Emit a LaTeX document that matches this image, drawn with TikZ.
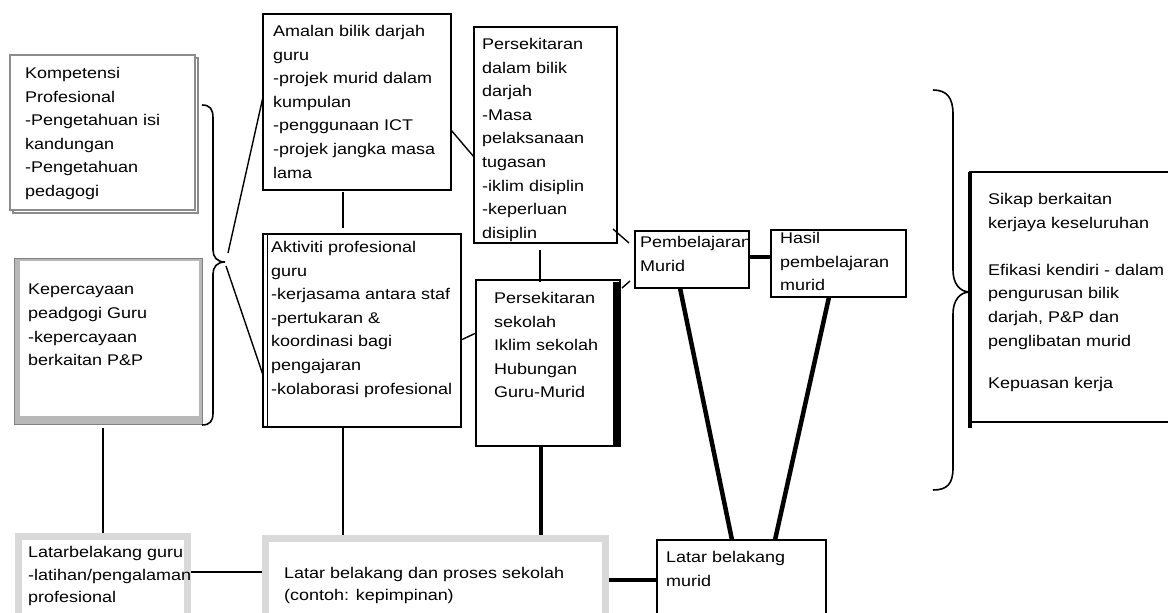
\documentclass[tikz,border=0pt]{standalone}
\usepackage{fontspec}
\setmainfont{Liberation Sans}[FakeStretch=1.16]
\usetikzlibrary{calc}
\begin{document}
\begin{tikzpicture}[x=1pt,y=-1pt,line join=miter,
  box/.style={draw=black, line width=1.4pt, fill=white, anchor=north west, inner sep=0pt, outer sep=0pt},
  graybox/.style={draw=black!15, line width=7pt, fill=white, anchor=north west, inner sep=0pt, outer sep=0pt},
  txt/.style={anchor=north west, inner sep=0pt, align=left, font=\fontsize{15.5}{23.6}\selectfont},
  con/.style={line width=1.4pt},
  heavy/.style={line width=4.5pt},
  brace/.style={line width=1.6pt}]
\useasboundingbox (0,0) rectangle (1168,613);
\clip (0,0) rectangle (1168,613);
\fill[white] (0,0) rectangle (1168,613);

% Kompetensi Profesional (stacked gray box)
\node[box, draw=black!45, line width=1.2pt, minimum width=185pt, minimum height=155pt] (kompB) at (13,58) {};
\node[box, draw=black!45, line width=1.2pt, minimum width=185pt, minimum height=155pt] (komp) at (10,55) {};
\node[txt] (kompT) at (25,67) {Kompetensi\\Profesional\\-Pengetahuan isi\\kandungan\\-Pengetahuan\\pedagogi};

% Kepercayaan pedagogi guru
\node[box, draw=black!50, line width=0.8pt, fill=black!28, minimum width=188pt, minimum height=166pt] (kep) at (14,258) {};
\fill[white] (20,261) rectangle (199,416);
\node[txt] (kepT) at (28,284) {Kepercayaan\\peadgogi Guru\\-kepercayaan\\berkaitan P\&P};

% left brace
\coordinate (lbtip) at (225,262);
\draw[brace] (202,105) .. controls (210,105) and (213,109) .. (213,118) -- (213,250)
  .. controls (213,257) and (217,262) .. (lbtip)
  .. controls (217,262) and (213,267) .. (213,274) -- (213,413)
  .. controls (213,421) and (210,425) .. (202,425);

% Amalan bilik darjah guru
\node[box, minimum width=188pt, minimum height=176pt] (amalan) at (263,14) {};
\node[txt] (amalanT) at (273,25) {Amalan bilik darjah\\guru\\-projek murid dalam\\kumpulan\\-penggunaan ICT\\-projek jangka masa\\lama};

% Persekitaran dalam bilik darjah
\node[box, minimum width=143pt, minimum height=216pt] (pd) at (474,27) {};
\node[txt] (pdT) at (482,38) {Persekitaran\\dalam bilik\\darjah\\-Masa\\pelaksanaan\\tugasan\\-iklim disiplin\\-keperluan\\disiplin};

% Aktiviti profesional guru
\node[box, minimum width=198pt, minimum height=193pt] (akt) at (263,234) {};
\draw[line width=1pt] (267,235) -- (267,426);
\node[txt] (aktT) at (271,241) {Aktiviti profesional\\guru\\-kerjasama antara staf\\-pertukaran \&\\koordinasi bagi\\pengajaran\\-kolaborasi profesional};

% Persekitaran sekolah
\node[box, line width=2.4pt, minimum width=144pt, minimum height=166pt] (ps) at (476,280) {};
\fill[black] (613,282) rectangle (620,447);
\node[txt] (psT) at (494,292) {Persekitaran\\sekolah\\Iklim sekolah\\Hubungan\\Guru-Murid};

% Pembelajaran Murid
\node[box, minimum width=114pt, minimum height=57pt] (pm) at (635,231) {};
\node[txt] (pmT) at (640,236) {Pembelajaran\\Murid};

% Hasil pembelajaran murid
\node[box, minimum width=135pt, minimum height=67pt] (hasil) at (771,230) {};
\node[txt] (hasilT) at (780,232) {Hasil\\pembelajaran\\murid};

% right brace
\coordinate (rbtip) at (970,292);
\draw[brace] (933,90) .. controls (947,90) and (953,98) .. (953,114) -- (953,270)
  .. controls (953,284) and (960,292) .. (rbtip)
  .. controls (960,292) and (953,300) .. (953,314) -- (953,468)
  .. controls (953,484) and (947,490) .. (933,490);

% Sikap box
\node[box, minimum width=202pt, minimum height=250pt] (sikap) at (970,172) {};
\draw[line width=4pt] (sikap.north west) -- ($(sikap.south west)+(0,6)$);
\node[txt] (sikapT) at (988,193) {Sikap berkaitan\\kerjaya keseluruhan\\[23.6pt]Efikasi kendiri - dalam\\pengurusan bilik\\darjah, P\&P dan\\penglibatan murid\\[18.5pt]Kepuasan kerja};

% bottom row
\node[graybox, minimum width=169pt, minimum height=100pt] (lbg) at (18.5,536.5) {};
\node[txt, font=\fontsize{15.5}{22.6}\selectfont] (lbgT) at (28,546) {Latarbelakang guru\\-latihan/pengalaman\\profesional};

\node[graybox, minimum width=340pt, minimum height=100pt] (proses) at (265.5,538.5) {};
\node[txt, font=\fontsize{15.5}{22.5}\selectfont] (prosesT) at (284,567) {Latar belakang dan proses sekolah\\(contoh: kepimpinan)};

\node[box, line width=1.8pt, minimum width=169pt, minimum height=100pt] (lbm) at (657,540) {};
\node[txt] (lbmT) at (666,551) {Latar belakang\\murid};

% connectors
\draw[con] (lbtip) ++(3,-9) -- ($(amalan.north west)+(0,83)$);
\draw[con] (lbtip) ++(1,4) -- ($(akt.north west)+(0,141)$);
\draw[con] ($(amalan.south west)+(80,2)$) -- ($(akt.north west)+(80,-6)$);
\draw[con] ($(amalan.north east)+(0,116)$) -- ($(pd.north west)+(0,130)$);
\draw[con] ($(pd.south west)+(66,7)$) -- ($(ps.north west)+(64,2)$);
\draw[con] ($(akt.north east)+(0,106)$) -- ($(ps.north west)+(0,53)$);
\draw[con] ($(pd.south east)+(-4,-14)$) -- ($(pm.north west)+(-6,12)$);
\draw[con] ($(ps.north east)+(2,8)$) -- ($(pm.south west)+(-5,-7)$);
\draw[heavy] ($(pm.north east)+(0,26)$) -- ($(hasil.north west)+(0,27)$);
\draw[heavy] ($(pm.south west)+(45,0)$) -- ($(lbm.north west)+(75,0)$);
\draw[heavy] ($(hasil.south west)+(58,0)$) -- ($(lbm.north west)+(118,0)$);
\draw[con] ($(kep.south west)+(89,4)$) -- ($(lbg.north west)+(84.5,-3.5)$);
\draw[con] ($(akt.south west)+(80,1)$) -- ($(proses.north west)+(77.5,-3.5)$);
\draw[heavy] ($(ps.south west)+(65,1)$) -- ($(proses.north west)+(275.5,-3.5)$);
\draw[line width=2pt] ($(lbg.north east)+(3.5,35.5)$) -- ($(proses.north west)+(-3.5,33.5)$);
\draw[heavy] ($(proses.north east)+(3.5,41.5)$) -- ($(lbm.north west)+(0,40)$);
\end{tikzpicture}
\end{document}
